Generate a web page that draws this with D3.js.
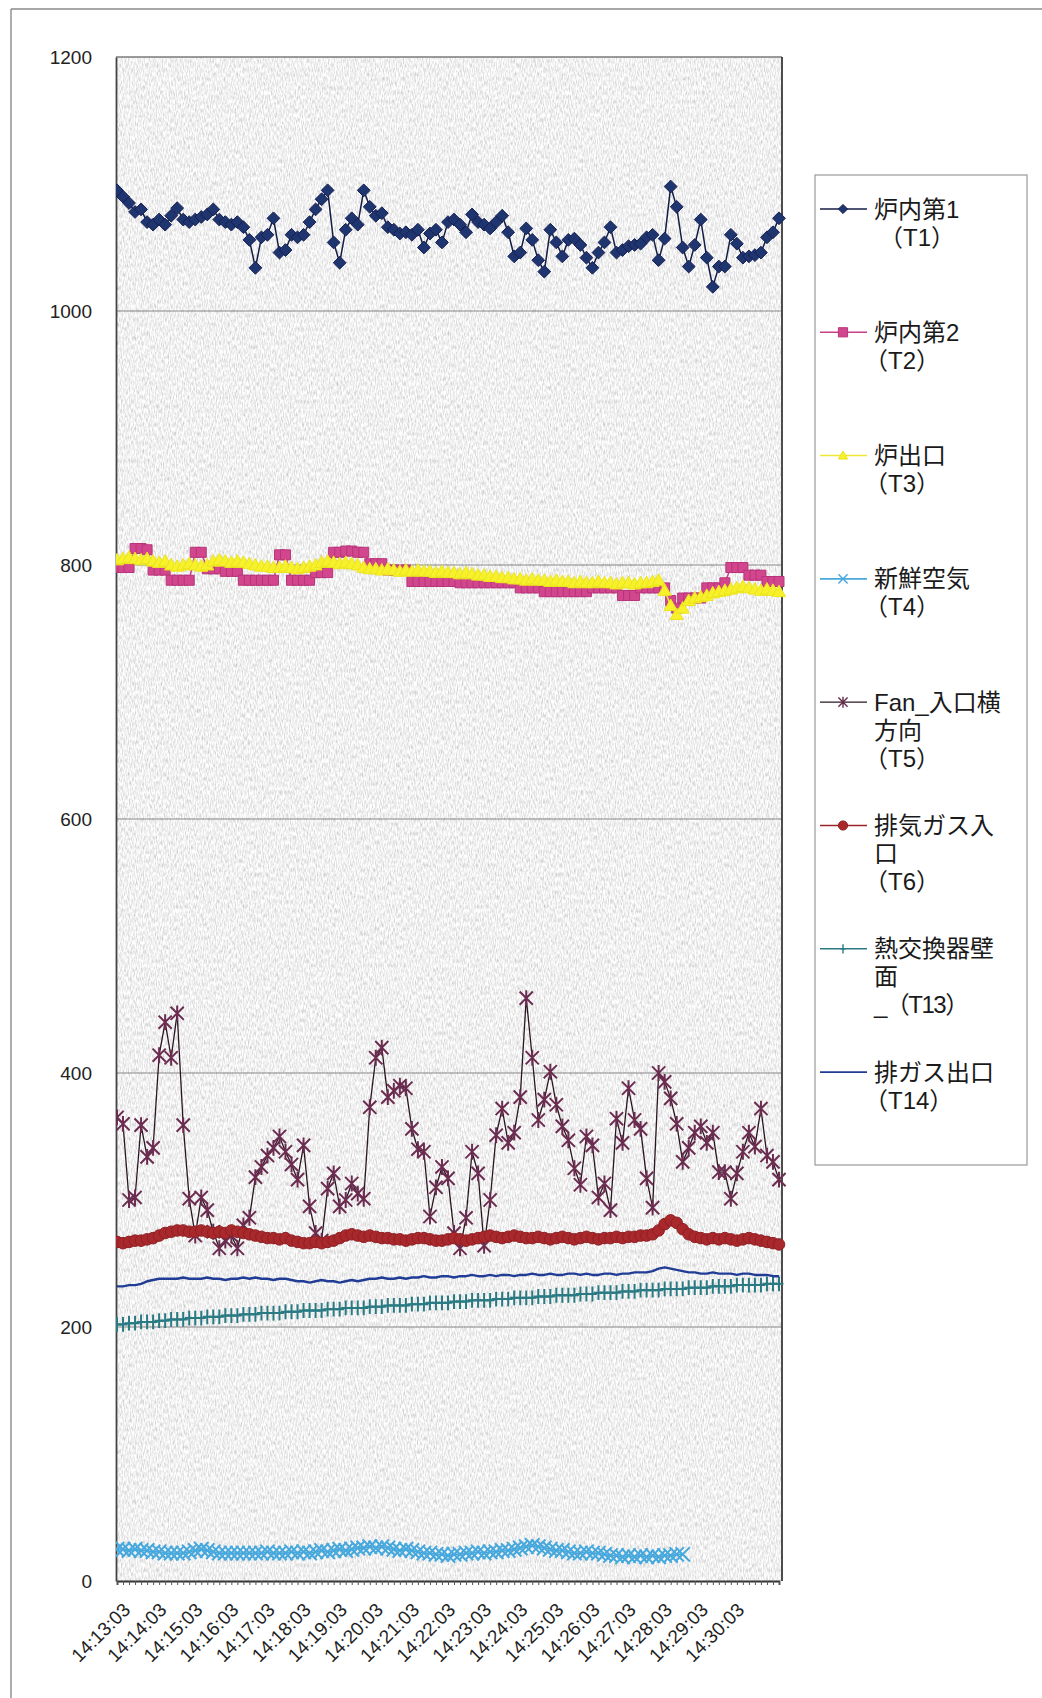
<!DOCTYPE html>
<html>
<head>
<meta charset="utf-8">
<script src="https://cdn.jsdelivr.net/npm/d3@7"></script>
<style>
  html, body { margin: 0; padding: 0; background: #fff; }
  svg { display: block; }
</style>
</head>
<body>
<svg id="chart" width="1042" height="1698"></svg>
<script>
// ---- data -------------------------------------------------------------
// Samples every 10 s starting 14:13:03; axis labels every 6th sample.
const tickLabels = ["14:13:03","14:14:03","14:15:03","14:16:03","14:17:03","14:18:03",
  "14:19:03","14:20:03","14:21:03","14:22:03","14:23:03","14:24:03","14:25:03",
  "14:26:03","14:27:03","14:28:03","14:29:03","14:30:03"];
const yTicks = [0, 200, 400, 600, 800, 1000, 1200];

const seriesNames = [
  ["炉内第1", "（T1）"],
  ["炉内第2", "（T2）"],
  ["炉出口", "（T3）"],
  ["新鮮空気", "（T4）"],
  ["Fan_入口横", "方向", "（T5）"],
  ["排気ガス入", "口", "（T6）"],
  ["熱交換器壁", "面", "_（T13）"],
  ["排ガス出口", "（T14）"]
];

const t1 = [1095,1090,1085,1078,1080,1070,1068,1072,1068,1075,
  1081,1072,1070,1072,1074,1076,1080,1072,1070,1068,
  1070,1066,1056,1034,1058,1060,1073,1046,1048,1060,
  1058,1060,1070,1080,1088,1095,1054,1038,1064,1073,
  1068,1095,1082,1075,1077,1066,1064,1061,1062,1060,
  1064,1050,1061,1064,1054,1070,1072,1068,1062,1076,
  1070,1068,1065,1070,1075,1062,1043,1046,1065,1056,
  1040,1031,1064,1054,1043,1056,1057,1052,1042,1034,
  1046,1054,1066,1046,1048,1051,1052,1053,1058,1060,
  1040,1057,1098,1082,1050,1035,1052,1072,1042,1019,
  1035,1035,1060,1053,1042,1043,1044,1046,1058,1062,
  1073];

const t2 = [798,798,798, 813,813,812, 796,796,796, 788,788,788,788, 810,810,
  797,797,797, 795,795,795, 788,788,788,788,788,788, 808,808, 788,788,788,788,
  794,794,794, 810,810,811,811,810,810, 801,801,801, 796,796,796,796,
  787,787,787,787,787,787,787,787, 786,786,786,786,786,786,786,786,786,786,
  782,782,782,782, 779,779,779,779,779,779,779,779, 782,782,782,782,782,
  776,776,776, 782,782,782,782,782, 772, 766, 774,774,774,774,
  782,782,782, 786, 798,798,798, 792,792,792, 787,787,787];

const t3 = [804,805,806,805,804,805,803,802,803,
  800,799,800,801,800,799,800,
  803,804,803,802,803,802,801,800,799,799,
  798,798,799,798,797,798,799,800,
  802,803,802,801,802,801,800,
  798,797,797,796,797,796,795,
  796,795,796,795,795,794,795,794,794,
  793,794,793,792,792,791,791,790,790,789,
  789,788,789,788,788,787,788,787,787,786,787,786,786,787,786,786,785,786,786,785,786,786,787,788,
  780,768,761,766,
  772,774,775,776,
  778,779,780,781,782,783,782,781,780,781,780,779];

const t4 = [25,25,24,25,24,24,23,23,22,22,22,
  22,23,24,25,24,23,22,22,22,22,
  22,22,22,22,23,22,22,22,23,22,
  23,22,23,24,23,24,25,24,25,26,
  26,27,26,27,26,25,24,25,24,23,
  22,22,21,21,20,21,21,22,22,23,
  22,23,23,24,24,25,26,27,28,27,
  26,25,24,24,23,22,22,23,22,22,
  21,20,20,19,20,19,20,19,20,19,20,20,21,21];

const t5 = [365,360,300,302,359,334,341,414,440,412,
  447,359,301,272,302,292,275,262,268,272,
  262,280,286,318,326,335,341,350,338,328,
  316,343,295,274,268,309,321,295,300,313,
  305,301,373,412,420,381,386,390,388,356,
  340,338,287,310,326,317,274,262,286,338,
  321,264,300,351,372,345,353,381,459,412,
  363,379,401,375,358,347,325,312,350,343,
  302,313,292,364,345,388,363,356,317,294,
  400,393,380,360,330,341,353,358,345,353,
  322,322,301,321,338,353,342,372,335,330,
  316];

const t6 = [267,266,267,268,268,269,
  270,272,274,275,276,276,275,275,276,275,
  274,275,274,276,275,274,273,272,271,270,
  270,269,270,268,267,266,266,267,266,267,
  268,270,272,273,272,271,272,271,270,270,
  269,269,268,269,270,270,269,268,268,269,
  270,269,268,269,270,271,272,271,270,271,
  272,271,270,270,271,270,269,270,271,270,
  269,270,271,270,269,270,270,271,270,271,
  271,272,272,273,276,281,284,282,277,273,
  271,270,269,270,269,270,269,268,269,270,
  269,268,267,266,265];

const t13 = [202,202,203,203,204,204,204,205,205,206,206,
  206,207,207,207,208,208,208,209,209,209,
  210,210,210,211,211,211,211,212,212,212,
  213,213,213,213,214,214,214,215,215,215,
  215,216,216,216,217,217,217,217,218,218,
  218,219,219,219,219,220,220,220,221,221,
  221,221,222,222,222,223,223,223,223,224,
  224,224,225,225,225,225,226,226,226,227,
  227,227,227,228,228,228,229,229,229,229,
  230,230,230,230,231,231,231,231,232,232,
  232,232,233,233,233,233,233,234,234,234];

const t14 = [232,232,233,233,234,236,237,238,238,238,238,
  239,238,238,238,239,238,238,237,238,238,
  239,238,239,238,238,237,238,238,237,236,
  236,235,236,237,236,236,235,236,237,236,
  237,238,238,239,238,238,239,238,239,239,
  240,239,239,240,240,239,240,240,241,240,
  240,241,240,241,241,240,241,241,242,241,
  241,242,241,241,242,242,241,242,241,241,
  242,242,241,242,242,243,243,243,244,246,
  247,246,245,244,243,243,242,242,243,242,
  242,242,241,242,242,241,241,241,240,240];

// ---- series styling -----------------------------------------------------
const series = [
  { values: t1,  line: "#141d45", lw: 1.5, marker: "diamond",  fill: "#1f3570", stroke: "#152050", size: 6.4 },
  { values: t2,  line: "#c83f88", lw: 1.5, marker: "square",   fill: "#d2468e", stroke: "#b8357a", size: 5.0 },
  { values: t3,  line: "#eee830", lw: 1.5, marker: "triangle", fill: "#f6f12a", stroke: "#ece41e", size: 6.6 },
  { values: t4,  line: "#4aa9dc", lw: 1.8, marker: "x",        fill: "none",    stroke: "#46a8dc", size: 7.2 },
  { values: t5,  line: "#2a1622", lw: 1.3, marker: "star",     fill: "none",    stroke: "#6b2c50", size: 6.6 },
  { values: t6,  line: "#9c2428", lw: 2.2, marker: "circle",   fill: "#a8282c", stroke: "#8e1f24", size: 5.8 },
  { values: t13, line: "#2a7a84", lw: 1.8, marker: "plus",     fill: "none",    stroke: "#2a7a84", size: 7.4 },
  { values: t14, line: "#213c95", lw: 2.4, marker: "none",     fill: "none",    stroke: "#213c95", size: 0 }
];

// ---- layout -------------------------------------------------------------
const svg = d3.select("#chart");
const plot = { left: 116, right: 782, top: 57, bottom: 1581 };
const nCat = t1.length;

const x = d3.scaleLinear().domain([0, nCat - 1]).range([plot.left + 1, plot.right - 3]);
const y = d3.scaleLinear().domain([0, 1200]).range([plot.bottom, plot.top]);

// grain texture for the plot background
const defs = svg.append("defs");
const grain = defs.append("filter").attr("id", "grain")
  .attr("x", 0).attr("y", 0).attr("width", "100%").attr("height", "100%");
grain.append("feTurbulence").attr("type", "fractalNoise")
  .attr("baseFrequency", "0.85 0.22").attr("numOctaves", 2).attr("seed", 7).attr("result", "n");
grain.append("feColorMatrix").attr("type", "matrix")
  .attr("values", "0.75 0 0 0 0.5  0.75 0 0 0 0.5  0.75 0 0 0 0.5  0 0 0 0 1");
defs.append("clipPath").attr("id", "plotClip").append("rect")
  .attr("x", plot.left).attr("y", plot.top - 8)
  .attr("width", plot.right - plot.left + 6).attr("height", plot.bottom - plot.top + 16);

// outer frame (left and top edges)
svg.append("line").attr("x1", 11).attr("x2", 1042).attr("y1", 9).attr("y2", 9)
  .attr("stroke", "#8a8a8a").attr("stroke-width", 1.4);
svg.append("line").attr("x1", 11).attr("x2", 11).attr("y1", 9).attr("y2", 1698)
  .attr("stroke", "#8a8a8a").attr("stroke-width", 1.4);

// plot background
svg.append("rect").attr("x", plot.left).attr("y", plot.top)
  .attr("width", plot.right - plot.left).attr("height", plot.bottom - plot.top)
  .attr("fill", "#e0e0e0").attr("filter", "url(#grain)");

// horizontal gridlines
svg.append("g").selectAll("line").data(yTicks.filter(v => v > 0 && v < 1200)).join("line")
  .attr("x1", plot.left).attr("x2", plot.right)
  .attr("y1", d => y(d)).attr("y2", d => y(d))
  .attr("stroke", "#858585").attr("stroke-width", 1);

// plot border
svg.append("line").attr("x1", plot.left).attr("x2", plot.right).attr("y1", plot.top).attr("y2", plot.top)
  .attr("stroke", "#7a7a7a").attr("stroke-width", 1.4);
svg.append("line").attr("x1", plot.right).attr("x2", plot.right).attr("y1", plot.top).attr("y2", plot.bottom)
  .attr("stroke", "#3a3a3a").attr("stroke-width", 1.8);

// y axis
const yAxis = svg.append("g").attr("transform", `translate(${plot.left},0)`)
  .call(d3.axisLeft(y).tickValues(yTicks).tickFormat(d3.format("d")).tickSize(0).tickPadding(24));
yAxis.select(".domain").attr("stroke", "#444").attr("stroke-width", 1.8);
yAxis.selectAll("text").attr("font-family", "'Liberation Sans', Arial, sans-serif")
  .attr("font-size", 19).attr("fill", "#222");

// x axis: a tick per sample, a label every minute
const xAxis = svg.append("g").attr("transform", `translate(0,${plot.bottom})`)
  .call(d3.axisBottom(x).tickValues(d3.range(nCat)).tickSize(4)
    .tickFormat(i => (i % 6 === 0 ? (tickLabels[i / 6] || "") : "")));
xAxis.select(".domain").attr("stroke", "#333").attr("stroke-width", 1.8);
xAxis.selectAll(".tick line").attr("stroke", "#555").attr("stroke-width", 1);
xAxis.selectAll("text")
  .attr("font-family", "'Liberation Sans', Arial, sans-serif")
  .attr("font-size", 19).attr("fill", "#222")
  .attr("x", 0).attr("y", 0).attr("dy", 0)
  .attr("text-anchor", "end")
  .attr("transform", "translate(14,30) rotate(-45)");

// ---- marks --------------------------------------------------------------
function markerPath(type, s) {
  switch (type) {
    case "diamond":  return `M0,${-s}L${s},0L0,${s}L${-s},0Z`;
    case "square":   return `M${-s},${-s}H${s}V${s}H${-s}Z`;
    case "triangle": return `M0,${-s}L${s},${s * 0.75}L${-s},${s * 0.75}Z`;
    case "x":        return `M${-s},${-s}L${s},${s}M${-s},${s}L${s},${-s}`;
    case "star":     return `M${-s},${-s}L${s},${s}M${-s},${s}L${s},${-s}M0,${-s * 1.2}V${s * 1.2}`;
    case "plus":     return `M${-s * 0.6},0H${s * 0.6}M0,${-s}V${s}`;
    default:         return "";
  }
}

const marks = svg.append("g").attr("clip-path", "url(#plotClip)");
series.forEach(s => {
  const g = marks.append("g");
  const line = d3.line().x((d, i) => x(i)).y(d => y(d));
  g.append("path").datum(s.values).attr("d", line)
    .attr("fill", "none").attr("stroke", s.line).attr("stroke-width", s.lw)
    .attr("stroke-linejoin", "round");
  if (s.marker === "circle") {
    g.selectAll("circle").data(s.values).join("circle")
      .attr("cx", (d, i) => x(i)).attr("cy", d => y(d)).attr("r", s.size)
      .attr("fill", s.fill).attr("stroke", s.stroke).attr("stroke-width", 1);
  } else if (s.marker !== "none") {
    const p = markerPath(s.marker, s.size);
    g.selectAll("path.m").data(s.values).join("path").attr("class", "m")
      .attr("transform", (d, i) => `translate(${x(i)},${y(d)})`)
      .attr("d", p)
      .attr("fill", s.fill).attr("stroke", s.stroke)
      .attr("stroke-width", s.fill === "none" ? 2 : 1);
  }
});

// ---- legend -------------------------------------------------------------
const legend = svg.append("g");
legend.append("rect").attr("x", 815).attr("y", 175).attr("width", 212).attr("height", 990)
  .attr("fill", "#fff").attr("stroke", "#9a9a9a").attr("stroke-width", 1.2);

const rowGap = 123.3, lineH = 28;
series.forEach((s, k) => {
  const cy = 209 + k * rowGap;
  const g = legend.append("g");
  g.append("line").attr("x1", 820).attr("x2", 867).attr("y1", cy).attr("y2", cy)
    .attr("stroke", s.line).attr("stroke-width", Math.min(s.lw, 1.6));
  if (s.marker === "circle") {
    g.append("circle").attr("cx", 843).attr("cy", cy).attr("r", 4.6)
      .attr("fill", s.fill).attr("stroke", s.stroke);
  } else if (s.marker !== "none") {
    g.append("path").attr("transform", `translate(843,${cy})`).attr("d", markerPath(s.marker, 4.6))
      .attr("fill", s.fill).attr("stroke", s.stroke).attr("stroke-width", s.fill === "none" ? 1.4 : 1);
  }
  // each wrapped line of the entry label
  seriesNames[k].forEach((line, j) => {
    // full-width "（" carries blank space on its left; pull it back in
    const startsParen = line.startsWith("（");
    let lx = 874;
    if (startsParen) lx = (k === 0) ? 879 : 864;
    g.append("text")
      .attr("x", lx).attr("y", cy + j * lineH)
      .attr("dominant-baseline", "central")
      .attr("font-family", "'Liberation Sans', 'Noto Sans CJK JP', sans-serif")
      .attr("font-size", 24).attr("fill", "#1a1a1a")
      .attr("letter-spacing", line.startsWith("_") ? -1.5 : 0)
      .text(line);
  });
});
</script>
</body>
</html>
